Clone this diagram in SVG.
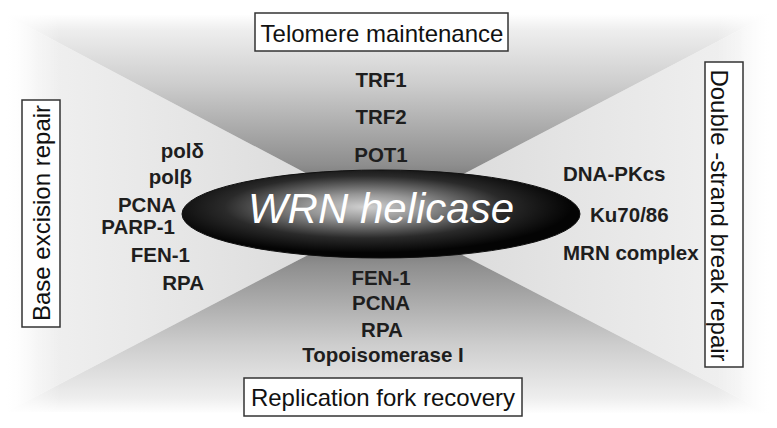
<svg xmlns="http://www.w3.org/2000/svg" width="777" height="428" viewBox="0 0 777 428">
  <defs>
    <linearGradient id="gT" gradientUnits="userSpaceOnUse" x1="0" y1="14" x2="0" y2="215">
      <stop offset="0" stop-color="#ffffff"/>
      <stop offset="0.08" stop-color="#eeeeee"/>
      <stop offset="0.35" stop-color="#cdcdcd"/>
      <stop offset="0.75" stop-color="#8e8e8e"/>
      <stop offset="1" stop-color="#4e4e4e"/>
    </linearGradient>
    <linearGradient id="gB" gradientUnits="userSpaceOnUse" x1="0" y1="414" x2="0" y2="215">
      <stop offset="0" stop-color="#ffffff"/>
      <stop offset="0.08" stop-color="#eeeeee"/>
      <stop offset="0.35" stop-color="#cdcdcd"/>
      <stop offset="0.75" stop-color="#8e8e8e"/>
      <stop offset="1" stop-color="#4e4e4e"/>
    </linearGradient>
    <linearGradient id="gL" gradientUnits="userSpaceOnUse" x1="6" y1="0" x2="385" y2="0">
      <stop offset="0" stop-color="#ffffff"/>
      <stop offset="0.08" stop-color="#f0f0f0"/>
      <stop offset="0.5" stop-color="#e5e5e5"/>
      <stop offset="1" stop-color="#d6d6d6"/>
    </linearGradient>
    <linearGradient id="gR" gradientUnits="userSpaceOnUse" x1="770" y1="0" x2="385" y2="0">
      <stop offset="0" stop-color="#ffffff"/>
      <stop offset="0.08" stop-color="#f0f0f0"/>
      <stop offset="0.5" stop-color="#e5e5e5"/>
      <stop offset="1" stop-color="#d6d6d6"/>
    </linearGradient>
    <linearGradient id="fadeL" x1="0" y1="0" x2="1" y2="0">
      <stop offset="0" stop-color="#fff" stop-opacity="1"/>
      <stop offset="1" stop-color="#fff" stop-opacity="0"/>
    </linearGradient>
    <linearGradient id="fadeR" x1="1" y1="0" x2="0" y2="0">
      <stop offset="0" stop-color="#fff" stop-opacity="1"/>
      <stop offset="1" stop-color="#fff" stop-opacity="0"/>
    </linearGradient>
    <radialGradient id="gEll" cx="0.46" cy="0.42" r="0.52">
      <stop offset="0" stop-color="#d0d0d0"/>
      <stop offset="0.28" stop-color="#969696"/>
      <stop offset="0.68" stop-color="#2a2a2a"/>
      <stop offset="1" stop-color="#040404"/>
    </radialGradient>
    <style>
      .lbl { font-family: "Liberation Sans", Arial, sans-serif; font-weight: bold; font-size: 20.5px; fill: #1e1e1e; }
      .box { fill: #ffffff; stroke: #333333; stroke-width: 1.5; }
      .boxt { font-family: "Liberation Sans", Arial, sans-serif; font-size: 24px; fill: #111111; }
    </style>
  </defs>

  <rect x="0" y="0" width="777" height="428" fill="#ffffff"/>

  <g id="background">
    <polygon points="6,15 385,215 6,412" fill="url(#gL)"/>
    <polygon points="770,14 385,215 770,414" fill="url(#gR)"/>
    <polygon points="6,15 770,14 385,215" fill="url(#gT)"/>
    <polygon points="6,412 385,215 770,414" fill="url(#gB)"/>
    <rect x="0" y="0" width="60" height="428" fill="url(#fadeL)"/>
    <rect x="717" y="0" width="60" height="428" fill="url(#fadeR)"/>
  </g>

  <g id="wrn-helicase">
    <ellipse cx="381" cy="214" rx="199" ry="44" fill="url(#gEll)" stroke="#111" stroke-width="1"/>
    <text x="381" y="223" text-anchor="middle" font-family="'Liberation Sans', Arial, sans-serif" font-style="italic" font-size="42" fill="#ffffff">WRN helicase</text>
  </g>

  <g id="telomere-maintenance">
    <rect class="box" x="255" y="13" width="253" height="38"/>
    <text class="boxt" x="382" y="42" text-anchor="middle">Telomere maintenance</text>
  </g>

  <g id="telomere-proteins">
    <text class="lbl" x="381" y="87" text-anchor="middle">TRF1</text>
    <text class="lbl" x="381" y="124" text-anchor="middle">TRF2</text>
    <text class="lbl" x="381" y="162" text-anchor="middle">POT1</text>
  </g>

  <g id="base-excision-repair">
    <rect class="box" x="22" y="100" width="38" height="227"/>
    <text class="boxt" transform="translate(50 213) rotate(-90)" text-anchor="middle">Base excision repair</text>
  </g>

  <g id="ber-proteins">
    <text class="lbl" x="204" y="158" text-anchor="end">polδ</text>
    <text class="lbl" x="192" y="184" text-anchor="end">polβ</text>
    <text class="lbl" x="176" y="212" text-anchor="end">PCNA</text>
    <text class="lbl" x="175" y="234" text-anchor="end">PARP-1</text>
    <text class="lbl" x="190" y="262" text-anchor="end">FEN-1</text>
    <text class="lbl" x="204" y="290" text-anchor="end">RPA</text>
  </g>

  <g id="double-strand-break-repair">
    <rect class="box" x="705" y="62" width="38" height="305"/>
    <text class="boxt" transform="translate(711 215.5) rotate(90)" text-anchor="middle">Double -strand break repair</text>
  </g>

  <g id="dsb-proteins">
    <text class="lbl" x="563" y="181">DNA-PKcs</text>
    <text class="lbl" x="590" y="222">Ku70/86</text>
    <text class="lbl" x="563" y="260">MRN complex</text>
  </g>

  <g id="replication-fork-recovery">
    <rect class="box" x="244" y="378" width="278" height="38"/>
    <text class="boxt" x="383" y="406" text-anchor="middle">Replication fork recovery</text>
  </g>

  <g id="replication-proteins">
    <text class="lbl" x="381" y="285" text-anchor="middle">FEN-1</text>
    <text class="lbl" x="381" y="310" text-anchor="middle">PCNA</text>
    <text class="lbl" x="382" y="337" text-anchor="middle">RPA</text>
    <text class="lbl" x="383" y="362" text-anchor="middle">Topoisomerase I</text>
  </g>
</svg>
